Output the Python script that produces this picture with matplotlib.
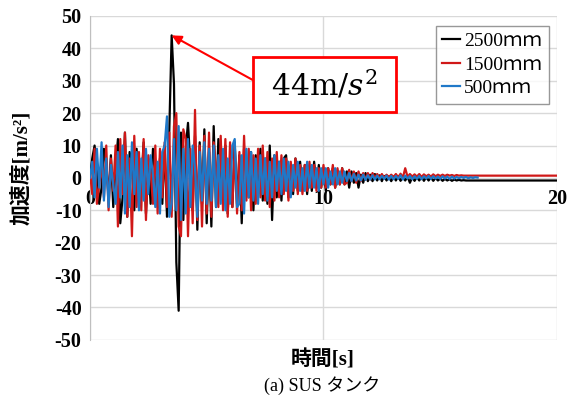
import numpy as np
import matplotlib
matplotlib.use("Agg")
import matplotlib.pyplot as plt
from matplotlib.patches import Rectangle

plt.rcParams['font.family'] = ['Liberation Serif', 'Noto Sans CJK JP']
plt.rcParams['axes.unicode_minus'] = False
plt.rcParams['mathtext.fontset'] = 'dejavuserif'

# sampling step of the records [s]
dt = 0.1

# acceleration records [m/s^2], one value every 0.1 s
acc_2500 = [
    0, 6, 10, 2, -8, -3, 9, 4, -6, 7,
    -9, 3, 12, -14, -6, 14, -12, 8, 4, -10,
    9, -7, -2, 11, -11, 5, -8, 9, 2, -9,
    6, -8, 10, -12, 15, 44, 29, -26, -41, 14,
    -13, 9, 17, 4, -10, 13, -16, 11, -8, 15,
    -14, 8, -15, 16, -9, 12, 2, -7, 10, -11,
    6, -9, 11, -8, 7, -14, 9, 2, -6, 8,
    -10, 7, -5, 9, -7, 6, -8, 10, -13, 7,
    -6, 5, -7, 6, 7, -6, 4, -5, 6, -4,
    5, -4, 4, -5, 3, -4, 5, -3, 4, -3,
    3, -4, 3, -2, 3, -3, 2, -2, 3, -2,
    2, -3, 2, -1.5, 1.5, -3, 1, -1.5, 1.5, -1,
    1, -1, 1.2, -0.8, 0.8, -1, 0.6, -0.8, 0.5, -1,
    0.4, -0.8, 0.5, -0.9, 0.3, -0.8, 0.4, -1.5, 0.2, -0.9,
    0.2, -0.8, 0.3, -0.9, 0.2, -0.8, 0.1, -0.9, 0.0, -0.8,
    -0.2, -0.9, -0.3, -0.8, -0.4, -0.9, -0.5, -0.8, -0.6, -0.8,
    -0.7, -0.8, -0.8, -0.8, -0.8, -0.8, -0.8, -0.8, -0.8, -0.8,
    -0.8, -0.8, -0.8, -0.8, -0.8, -0.8, -0.8, -0.8, -0.8, -0.8,
    -0.8, -0.8, -0.8, -0.8, -0.8, -0.8, -0.8, -0.8, -0.8, -0.8,
    -0.8, -0.8, -0.8, -0.8, -0.8, -0.8, -0.8, -0.8, -0.8, -0.8,
    -0.8,
]

acc_1500 = [
    2, -5, 9, -8, -2, 4, -6, 10, -10, 6,
    -4, 10, -15, 12, -5, 14, -12, 6, -18, 13,
    -9, 8, -10, 12, -13, 7, 2, -8, 10, -11,
    9, -6, 11, -9, 14, -12, 16, 20, -15, -18,
    15, 12, -18, 9, -14, 21, -13, 10, -15, 13,
    -11, 14, -12, 11, 3, -9, 13, -10, 12, -12,
    11, -9, 10, -11, 8, -10, 13, -7, 9, -10,
    7, -8, 9, -6, 10, -7, 8, -9, 6, -7,
    8, -6, 7, -5, 6, -7, 5, -4, 6, -5,
    4, -5, 4, -4, 5, -3, 4, -4, 3, -3,
    4, -3, 3, -2, 4, -3, 3, -2, 3, -2,
    -1.5, 2.5, -1, 2, -1.5, 2, -1, 1.5, -0.5, 1.5,
    -0.5, 1.5, 0, 1.2, 0, 1.2, 0, 1, 0.2, 1,
    0.3, 1.2, 0.2, 1.3, 0.1, 3, 0.3, 1.2, 0.4, 1.1,
    0.4, 1.2, 0.3, 1.1, 0.5, 1.0, 0.4, 1.1, 0.5, 1.0,
    0.6, 1.0, 0.6, 1.0, 0.7, 0.9, 0.6, 0.9, 0.7, 0.8,
    0.7, 0.7, 0.7, 0.7, 0.7, 0.7, 0.7, 0.7, 0.7, 0.7,
    0.7, 0.7, 0.7, 0.7, 0.7, 0.7, 0.7, 0.7, 0.7, 0.7,
    0.7, 0.7, 0.7, 0.7, 0.7, 0.7, 0.7, 0.7, 0.7, 0.7,
    0.7, 0.7, 0.7, 0.7, 0.7, 0.7, 0.7, 0.7, 0.7, 0.7,
    0.7,
]

acc_500 = [
    0, 5, -6, 9, -3, 11, -7, 6, -9, 4,
    -2, -8, 8, -6, 10, -11, 7, -9, 11, -5,
    8, -10, 6, -7, 9, -5, 7, 1, -9, 5,
    -11, 8, 10, 19, -12, -8, 12, -10, 16, -13,
    9, -11, 12, -9, 10, 3, -12, 8, -7, 11,
    -8, 9, -7, 10, -9, 7, -8, 9, -10, 6,
    -8, 10, 12, -9, -8, 7, -11, 9, -6, 8,
    -7, 6, -8, 7, -5, 6, -7, 5, -6, 7,
    -4, 5, -5, 6, -4, 5, -6, 4, -3, 5,
    -4, 3, -4, 5, -3, 4, -3, 3, -4, 3,
    -2, 3, -3, 2, -2, 3, -2, 2, -1.5, 2,
    -1, 1.5, -1, 1.2, -0.8, 1, -0.8, 1, -0.6, 0.8,
    -0.5, 0.8, -0.5, 0.7, -0.4, 0.6, -0.3, 0.7, -0.5, 0.6,
    -0.4, 0.6, -0.3, 0.8, -0.5, 0.7, -0.2, 0.6, -0.4, 0.5,
    -0.3, 0.6, -0.4, 0.5, -0.2, 0.6, -0.3, 0.5, -0.2, 0.4,
    -0.3, 0.5, -0.2, 0.4, -0.3, 0.4, -0.2, 0.3, -0.1, 0.3,
    0, 0.3, -0.1, 0.2, 0, 0.2, 0.1,
]

labels = ["2500ｍｍ", "1500ｍｍ", "500ｍｍ"]
colors = ["#000000", "#d01818", "#1f78c8"]
series = [acc_2500, acc_1500, acc_500]

peak_value = 44
peak_time = 3.5

fig = plt.figure(figsize=(5.69, 4.09), dpi=100)
ax = fig.add_axes([0.158, 0.169, 0.821, 0.792])

for acc, lab, col in zip(series, labels, colors):
    t = np.arange(len(acc)) * dt
    ax.plot(t, acc, color=col, lw=1.6, label=lab, zorder=3)

ax.set_xlim(0, 20)
ax.set_ylim(-50, 50)
ax.set_yticks(np.arange(-50, 51, 10))
ax.set_xticks([0, 10, 20])
ax.grid(True, color="#d9d9d9", lw=1, zorder=0)
ax.set_axisbelow(True)

for s in ["top", "right"]:
    ax.spines[s].set_visible(False)
ax.spines["left"].set_color("#bfbfbf")
ax.spines["bottom"].set_position(("data", 0))
ax.spines["bottom"].set_visible(False)
ax.tick_params(length=0)
ax.tick_params(axis="y", labelsize=14.5, pad=6)
ax.tick_params(axis="x", labelsize=14.5, pad=8)
for lbl in ax.get_yticklabels() + ax.get_xticklabels():
    lbl.set_fontweight("bold")

ax.set_ylabel("加速度[m/s²]", fontsize=15, fontweight="bold")
ax.yaxis.set_label_coords(-0.124, 0.53)
fig.text(0.567, 0.118, "時間[s]", ha="center", va="center", fontsize=15, fontweight="bold")
fig.text(0.567, 0.058, "(a) SUS タンク", ha="center", va="center", fontsize=13)

leg = ax.legend(loc="upper right", bbox_to_anchor=(0.982, 0.97), fontsize=14,
                handlelength=0.9, handletextpad=0.2, labelspacing=0.3,
                borderpad=0.35, borderaxespad=0, frameon=True, fancybox=False)
leg.get_frame().set_edgecolor("#7f7f7f")
leg.get_frame().set_linewidth(1)

# callout for the peak value
ax.add_patch(Rectangle((6.98, 20.4), 6.12, 16.9, fc="white", ec="#ff0000", lw=2, zorder=5))
ax.text(10.04, 28.6, "%dm/$s^2$" % peak_value, ha="center", va="center",
        fontsize=21.5, family="DejaVu Serif", zorder=6)
ax.annotate("", xy=(peak_time, peak_value), xytext=(6.98, 30.2),
            arrowprops=dict(arrowstyle="-|>", color="#ff0000", lw=1.5,
                            mutation_scale=14, shrinkA=0, shrinkB=0),
            zorder=6)

fig.savefig("out.png", dpi=100)
